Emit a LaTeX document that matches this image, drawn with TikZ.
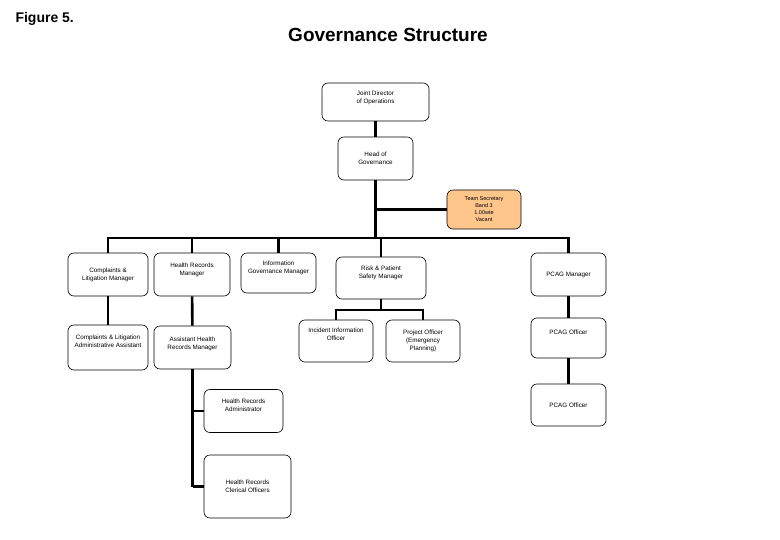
\documentclass[tikz,border=0pt]{standalone}
\usepackage{fontspec}
\setmainfont{Liberation Sans}
\usepackage{tikz}

\begin{document}
\begin{tikzpicture}
[x=1pt,y=-1pt]
\tikzset{post/.style={draw,rounded corners=6pt,line width=.6pt,fill=white,align=center,
  font=\fontsize{6.3}{8}\selectfont,inner sep=1pt}}
\tikzset{raised/.style={text depth=#1}}
\tikzset{vacant/.style={post,fill=orange!45!white}}
\tikzset{link/.style={line width=2.6pt}}
\useasboundingbox (0,0) rectangle (780,540);

\node [anchor=base west,font=\fontsize{14}{16}\selectfont\bfseries] (fig) at (12,23) {Figure 5.};
\node [anchor=base,font=\fontsize{19}{22}\selectfont\bfseries] (title) at (388,42) {Governance Structure};

% top
\node [post,raised=10pt,minimum width=107pt,minimum height=38pt] (jdo) at (375.5,102) {Joint Director\\of Operations};
\node [post,minimum width=75pt,minimum height=43pt] (hog) at (375.5,158.5) {Head of\\Governance};
\node [vacant,minimum width=74pt,minimum height=39pt,font=\fontsize{5.5}{7}\selectfont] (ts) at (484,209.5) {Team Secretary\\Band 3\\1.00wte\\Vacant};
\coordinate (bus) at (375.5,238);

% managers
\node [post,minimum width=80pt,minimum height=43pt] (clm) at (108,274.5) {Complaints \&\\Litigation Manager};
\node [post,raised=10pt,minimum width=76pt,minimum height=43pt] (hrm) at (192,274.5) {Health Records\\Manager};
\node [post,raised=11pt,minimum width=75pt,minimum height=40pt] (igm) at (278.5,273) {Information\\Governance Manager};
\node [post,raised=11pt,minimum width=90pt,minimum height=42pt] (rpm) at (381,278) {Risk \& Patient\\Safety Manager};
\node [post,minimum width=75pt,minimum height=43pt] (pcm) at (568.5,274.5) {PCAG Manager};

% second level
\node [post,raised=13pt,minimum width=80pt,minimum height=45pt] (cla) at (108,347.5) {Complaints \& Litigation\\Administrative Assistant};
\node [post,raised=8pt,minimum width=77pt,minimum height=43pt] (ahm) at (192.5,347.5) {Assistant Health\\Records Manager};
\node [post,raised=13pt,minimum width=74pt,minimum height=42pt] (iio) at (336,341) {Incident Information\\Officer};
\node [post,minimum width=74pt,minimum height=42pt] (poe) at (423,341) {Project Officer\\(Emergency\\Planning)};
\node [post,raised=11pt,minimum width=75pt,minimum height=40pt] (pco1) at (568.5,338) {PCAG Officer};
\node [post,minimum width=75pt,minimum height=42pt] (pco2) at (568.5,405) {PCAG Officer};

% health records staff
\node [post,raised=11pt,minimum width=79pt,minimum height=43pt] (hra) at (243.5,411) {Health Records\\Administrator};
\node [post,minimum width=87pt,minimum height=63pt] (hco) at (247.5,486.5) {Health Records\\Clerical Officers};
\coordinate (rbus) at (381,310);
\coordinate (hbus) at (192.5,486.5);

\draw [link] (jdo) -- (hog);
\draw [link] (hog) -- (bus);
\draw [link] (ts.west) -| (hog.south);
\draw [link] (clm.north) |- (bus) -| (pcm.north);
\foreach \n in {hrm,igm,rpm}
	\draw [link] (\n.north) -- (\n.north |- bus);
\foreach \from/\to in {clm/cla,hrm/ahm,pcm/pco1,pco1/pco2,rpm/rbus,ahm/hbus,hbus/hco}
	\draw [link] (\from) -- (\to);
\draw [link] (iio.north) |- (rbus) -| (poe.north);
\draw [link] (hra.west) -- (hra.west -| hbus);

\end{tikzpicture}
\end{document}
